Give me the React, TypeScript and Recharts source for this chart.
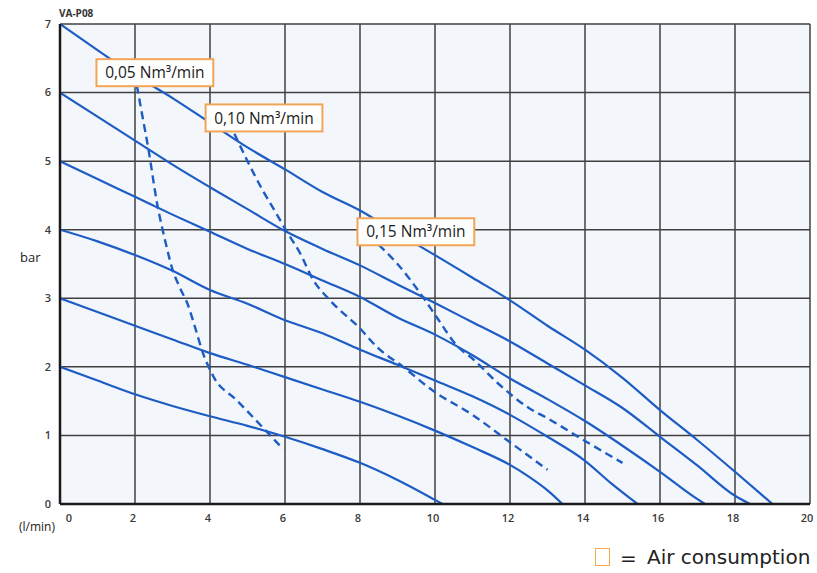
import { ComposedChart, Line, Scatter, XAxis, YAxis, CartesianGrid } from "recharts";

// flow (l/min) on x, pressure (bar) on y
const flowTicks = [0, 2, 4, 6, 8, 10, 12, 14, 16, 18, 20];
const barTicks = [0, 1, 2, 3, 4, 5, 6, 7];

// solid curves: inlet air pressure
const p7 = [[0, 7], [1, 6.62], [2, 6.25], [3, 5.92], [4, 5.56], [5, 5.2], [6, 4.88], [7, 4.55], [8, 4.28], [9, 3.95], [10, 3.63], [11, 3.3], [12, 2.97], [13, 2.6], [14, 2.25], [15, 1.84], [16, 1.37], [17, 0.93], [18, 0.47], [19, 0]];
const p6 = [[0, 6], [1, 5.65], [2, 5.3], [3, 4.95], [4, 4.62], [5, 4.3], [6, 3.98], [7, 3.72], [8, 3.48], [9, 3.2], [10, 2.93], [11, 2.65], [12, 2.37], [13, 2.05], [14, 1.73], [15, 1.4], [16, 0.98], [17, 0.56], [18, 0.12], [18.4, 0]];
const p5 = [[0, 5], [1, 4.74], [2, 4.48], [3, 4.22], [4, 3.97], [5, 3.72], [6, 3.5], [7, 3.26], [8, 3.02], [9, 2.72], [10, 2.47], [11, 2.17], [12, 1.83], [13, 1.53], [14, 1.21], [15, 0.85], [16, 0.47], [17, 0.07], [17.2, 0]];
const p4 = [[0, 4], [1, 3.83], [2, 3.63], [3, 3.4], [4, 3.12], [5, 2.92], [6, 2.68], [7, 2.49], [8, 2.25], [9, 2.03], [10, 1.8], [11, 1.57], [12, 1.3], [13, 0.98], [14, 0.63], [14.7, 0.3], [15.4, 0]];
const p3 = [[0, 3], [1, 2.8], [2, 2.6], [3, 2.4], [4, 2.2], [5, 2.03], [6, 1.85], [7, 1.67], [8, 1.49], [9, 1.29], [10, 1.07], [11, 0.83], [12, 0.57], [12.5, 0.4], [13, 0.2], [13.4, 0]];
const p2 = [[0, 2], [1, 1.8], [2, 1.6], [3, 1.43], [4, 1.28], [5, 1.14], [6, 0.98], [7, 0.8], [8, 0.6], [9, 0.35], [10, 0.06], [10.2, 0]];

// dashed curves: air consumption
const air005 = [[2.05, 6.1], [2.2, 5.65], [2.35, 5.2], [2.6, 4.35], [2.8, 3.85], [3.0, 3.42], [3.2, 3.15], [3.4, 2.92], [3.6, 2.58], [3.8, 2.22], [4.1, 1.85], [4.7, 1.52], [5.4, 1.12], [5.95, 0.8]];
const air010 = [[4.65, 5.4], [5.0, 5.0], [5.4, 4.58], [5.7, 4.3], [6.05, 3.97], [6.4, 3.66], [6.75, 3.27], [7.2, 2.97], [8, 2.56], [8.45, 2.29], [9.15, 2.0], [9.95, 1.65], [11, 1.3], [12, 0.9], [13, 0.5]];
const air015 = [[8.5, 3.78], [9.0, 3.5], [9.7, 3.0], [10.05, 2.72], [10.6, 2.3], [11.0, 2.12], [11.7, 1.75], [12.5, 1.4], [13.0, 1.25], [14.0, 0.92], [15.0, 0.6]];

const airNames = ["0,05 Nm³/min", "0,10 Nm³/min", "0,15 Nm³/min"];
const airNameX = [2.53, 5.44, 9.49];
const airNameY = [6.29, 5.63, 3.97];

const toPts = (arr: number[][]) => arr.map(([x, y]) => ({ x, y }));

const BLUE = "#1d5cc4";
const solid = [p7, p6, p5, p4, p3, p2];
const dashed = [air005, air010, air015];
const boxes = airNames.map((name, i) => ({ x: airNameX[i], y: airNameY[i], name }));

const XTick = (props: any) => {
  const { x, y, payload } = props;
  const shift = payload.value === 0 ? 9 : -2;
  return (
    <text x={x + shift} y={y + 18} textAnchor="middle" fontSize={11} fontWeight={600} fill="#3a3a3a" fontFamily="'Open Sans', sans-serif">
      {payload.value}
    </text>
  );
};

const YTick = (props: any) => {
  const { x, y, payload } = props;
  return (
    <text x={x} y={y} dy="0.35em" textAnchor="end" fontSize={11} fontWeight={600} fill="#3a3a3a" fontFamily="'Open Sans', sans-serif">
      {payload.value}
    </text>
  );
};

const LabelBox = (props: any) => {
  const { cx, cy, payload } = props;
  const w = payload.name.length * 9.4 + 4;
  const h = 27;
  return (
    <g>
      <rect x={cx - w / 2} y={cy - h / 2} width={w} height={h} fill="#ffffff" stroke="#f3a556" strokeWidth={2} />
      <text x={cx} y={cy} dy="0.36em" textAnchor="middle" fontSize={15.5} fill="#1a1a1a" fontFamily="'Open Sans', sans-serif">
        {payload.name}
      </text>
    </g>
  );
};

const txt = { position: "absolute" as const, fontFamily: "'Open Sans', sans-serif", color: "#222", lineHeight: 1 };

export default function App() {
  return (
    <div style={{ position: "absolute", left: 0, top: 0, width: 817, height: 573, background: "#fff" }}>
      <ComposedChart width={817} height={573} margin={{ top: 24, right: 7, bottom: 39, left: 0 }}>
        <CartesianGrid stroke="#404040" strokeWidth={1.5} fill="#f3f6fa" fillOpacity={1} />
        <XAxis
          type="number"
          dataKey="x"
          domain={[0, 20]}
          ticks={flowTicks}
          height={30}
          tickSize={0}
          tickMargin={0}
          tickLine={false}
          axisLine={{ stroke: "#1a1a1a", strokeWidth: 2.5 }}
          tick={<XTick />}
          allowDataOverflow
        />
        <YAxis
          type="number"
          dataKey="y"
          domain={[0, 7]}
          ticks={barTicks}
          width={60}
          tickSize={0}
          tickMargin={9}
          tickLine={false}
          axisLine={{ stroke: "#1a1a1a", strokeWidth: 2.5 }}
          tick={<YTick />}
          allowDataOverflow
        />
        {solid.map((s, i) => (
          <Line key={"p" + i} data={toPts(s)} dataKey="y" type="monotone" stroke={BLUE} strokeWidth={2.2} dot={false} isAnimationActive={false} />
        ))}
        {dashed.map((s, i) => (
          <Line key={"a" + i} data={toPts(s)} dataKey="y" type="monotone" stroke={BLUE} strokeWidth={2.4} strokeDasharray="8 5" dot={false} isAnimationActive={false} />
        ))}
        <Scatter data={boxes} dataKey="y" shape={<LabelBox />} isAnimationActive={false} />
      </ComposedChart>
      <div style={{ ...txt, left: 59, top: 8, fontSize: 10, fontWeight: 700, color: "#333" }}>VA-P08</div>
      <div style={{ ...txt, left: 20, top: 251, fontSize: 13 }}>bar</div>
      <div style={{ ...txt, left: 19, top: 521, fontSize: 12 }}>(l/min)</div>
      <div style={{ position: "absolute", left: 595, top: 548, width: 13, height: 16, border: "1.5px solid #f5a94a" }} />
      <div style={{ ...txt, left: 620, top: 548, fontSize: 20, fontFamily: "'DejaVu Sans', sans-serif" }}>=</div>
      <div style={{ ...txt, left: 647, top: 547, fontSize: 20, fontFamily: "'DejaVu Sans', sans-serif" }}>Air consumption</div>
    </div>
  );
}
